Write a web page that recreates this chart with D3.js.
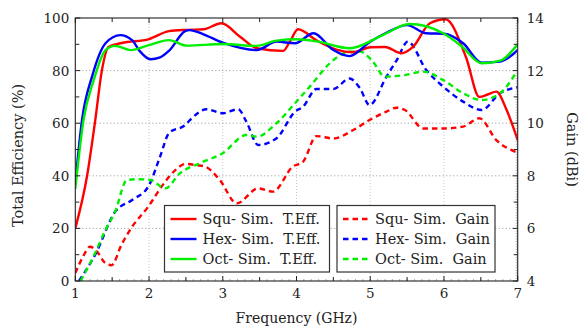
<!DOCTYPE html>
<html><head><meta charset="utf-8">
<script src="https://cdn.jsdelivr.net/npm/d3@7"></script>
<style>body{margin:0;background:#fff}svg{display:block}</style>
</head><body><svg id="c" width="582" height="326"></svg>
<script>
const xTicks = [1,2,3,4,5,6,7];
const effTicks = [0,20,40,60,80,100];
const gainTicks = [4,6,8,10,12,14];

const squEff = [[1.0,20],[1.16,40],[1.27,61],[1.36,80],[1.45,89],[1.63,90.5],[2.0,92],[2.27,95],[2.5,95.5],[2.74,95.7],[2.98,98],[3.23,93],[3.46,88.5],[3.82,87.5],[3.91,91],[4.02,95.7],[4.27,91.5],[4.54,88],[4.77,87],[5.0,88.9],[5.2,89],[5.42,86.6],[5.58,89],[5.81,98],[6.02,99.5],[6.3,85],[6.48,70],[6.6,71],[6.71,72],[6.85,65],[7.0,53.6]];
const hexEff = [[1.0,37],[1.09,61],[1.23,78],[1.41,90.4],[1.61,93.5],[1.77,91.6],[1.88,87.2],[2.02,84.3],[2.15,85],[2.27,87.5],[2.49,95],[2.55,95.4],[2.73,93.9],[3.0,90.6],[3.46,87.8],[3.73,91],[3.98,90.4],[4.23,94.2],[4.5,87.8],[4.72,85.5],[5.0,91],[5.22,94.4],[5.5,97.3],[5.76,94.2],[6.0,94],[6.26,90.4],[6.51,83],[6.76,83.4],[7.0,87.8]];
const octEff = [[1.0,35],[1.11,61],[1.25,76.4],[1.41,87.8],[1.54,89.4],[1.75,87.8],[2.0,89.7],[2.27,91.6],[2.51,89.5],[3.0,90.1],[3.46,89.4],[3.73,91.4],[4.0,91.9],[4.29,91],[4.72,88.5],[5.17,93.5],[5.53,97.7],[5.99,94.2],[6.25,89],[6.51,82.8],[6.76,83.8],[7.0,90]];
const squGain = [[1.0,4.3],[1.1,4.9],[1.2,5.3],[1.3,5.1],[1.4,4.7],[1.49,4.6],[1.63,5.4],[1.77,6.06],[1.99,6.83],[2.17,7.59],[2.35,8.2],[2.5,8.45],[2.65,8.4],[2.76,8.35],[2.96,7.84],[3.19,6.95],[3.48,7.52],[3.68,7.4],[3.95,8.35],[4.09,8.54],[4.27,9.51],[4.5,9.42],[4.77,9.74],[4.99,10.12],[5.22,10.44],[5.36,10.59],[5.47,10.5],[5.72,9.8],[5.99,9.8],[6.26,9.87],[6.48,10.19],[6.71,9.36],[7.0,8.88]];
const hexGain = [[1.05,4.0],[1.27,5.0],[1.54,6.63],[1.77,7.08],[1.99,7.59],[2.15,8.73],[2.27,9.62],[2.49,9.93],[2.58,10.19],[2.78,10.53],[3.0,10.38],[3.21,10.53],[3.32,10.06],[3.48,9.17],[3.73,9.43],[3.98,10.44],[4.09,10.63],[4.27,11.3],[4.5,11.3],[4.72,11.7],[4.86,11.33],[4.99,10.69],[5.22,11.77],[5.36,12.4],[5.51,13.1],[5.76,12.02],[5.99,11.39],[6.26,10.82],[6.51,10.5],[6.76,11.14],[7.0,11.37]];
const octGain = [[1.07,4.0],[1.25,4.95],[1.41,5.94],[1.54,6.63],[1.7,7.84],[1.86,7.87],[2.02,7.84],[2.22,7.52],[2.42,8.1],[2.69,8.48],[3.0,8.86],[3.32,9.55],[3.46,9.49],[3.73,10.0],[3.98,10.76],[4.18,11.39],[4.5,12.4],[4.72,12.72],[4.86,12.72],[5.02,12.4],[5.2,11.77],[5.47,11.83],[5.72,11.96],[5.99,11.64],[6.26,11.14],[6.51,10.88],[6.76,11.14],[7.0,12.02]];

const effSeries = [
  {name:"Squ- Sim.  T.Eff.", data:squEff, color:"#ff0000"},
  {name:"Hex- Sim.  T.Eff.", data:hexEff, color:"#0000ff"},
  {name:"Oct- Sim.  T.Eff.", data:octEff, color:"#00ee00"}
];
const gainSeries = [
  {name:"Squ- Sim.  Gain", data:squGain, color:"#ff0000"},
  {name:"Hex- Sim.  Gain", data:hexGain, color:"#0000ff"},
  {name:"Oct- Sim.  Gain", data:octGain, color:"#00ee00"}
];

const FONT = "'DejaVu Serif','Liberation Serif',serif";
const L=75.3, R=517.7, T=18, B=281;
const svg = d3.select("#c");
const x = d3.scaleLinear().domain([1,7]).range([L,R]);
const yE = d3.scaleLinear().domain([0,100]).range([B,T]);
const yG = d3.scaleLinear().domain([4,14]).range([B,T]);

const g = svg.append("g");
[2,3,4,5,6].forEach(v=>g.append("line").attr("x1",x(v)).attr("x2",x(v)).attr("y1",T).attr("y2",B)
  .attr("stroke","#bbb").attr("stroke-width",0.8).attr("stroke-dasharray","1,2"));
[20,40,60,80].forEach(v=>g.append("line").attr("x1",L).attr("x2",R).attr("y1",yE(v)).attr("y2",yE(v))
  .attr("stroke","#777").attr("stroke-width",0.8).attr("stroke-dasharray","1,2.5"));

svg.append("clipPath").attr("id","clip").append("rect").attr("x",L).attr("y",T-3).attr("width",R-L).attr("height",B-T+3);
const plot = svg.append("g").attr("clip-path","url(#clip)");
const lineE = d3.line().x(d=>x(d[0])).y(d=>yE(d[1])).curve(d3.curveMonotoneX);
const lineG = d3.line().x(d=>x(d[0])).y(d=>yG(d[1])).curve(d3.curveMonotoneX);
gainSeries.forEach(s=>plot.append("path").attr("d",lineG(s.data)).attr("fill","none").attr("stroke",s.color)
  .attr("stroke-width",2.4).attr("stroke-dasharray","5.5,4"));
effSeries.forEach(s=>plot.append("path").attr("d",lineE(s.data)).attr("fill","none").attr("stroke",s.color)
  .attr("stroke-width",2.4));

const ax = svg.append("g");
function tick(x1,y1,x2,y2,c,w){ax.append("line").attr("x1",x1).attr("y1",y1).attr("x2",x2).attr("y2",y2).attr("stroke",c||"#222").attr("stroke-width",w||1);}
d3.range(40,141).forEach(i=>{const v=i/10;tick(R,yG(v),R-2,yG(v),"#777",0.6);});
d3.range(10,71).forEach(i=>{const v=i/10;tick(x(v),B,x(v),B-2,"#777",0.6);});
d3.range(2,15).forEach(i=>{const v=i/2;const len=Number.isInteger(v)?5:4;
  tick(x(v),B,x(v),B-len);tick(x(v),T,x(v),T+len);});
d3.range(0,11).forEach(i=>{const v=i*10;tick(L,yE(v),L+(v%20===0?5:4),yE(v));});
d3.range(4,15).forEach(v=>{tick(R,yG(v),R-(v%2===0?5:4),yG(v));});
svg.append("rect").attr("x",L).attr("y",T).attr("width",R-L).attr("height",B-T).attr("fill","none").attr("stroke","#222").attr("stroke-width",1.1);

const txt = (sel,fs)=>sel.attr("fill","#222").attr("font-size",fs).style("font-family",FONT);
svg.append("g").selectAll("text").data(xTicks).join("text").attr("x",d=>x(d)).attr("y",B+17).attr("text-anchor","middle").call(txt,13.5).text(d=>d);
svg.append("g").selectAll("text").data(effTicks).join("text").attr("x",L-6).attr("y",d=>yE(d)+5).attr("text-anchor","end").call(txt,13.5).text(d=>d);
svg.append("g").selectAll("text").data(gainTicks).join("text").attr("x",R+9).attr("y",d=>yG(d)+5).attr("text-anchor","start").call(txt,13.5).text(d=>d);
svg.append("text").attr("x",(L+R)/2).attr("y",323).attr("text-anchor","middle").call(txt,14).text("Frequency (GHz)");
svg.append("text").attr("transform",`translate(23,${(T+B)/2+6}) rotate(-90)`).attr("text-anchor","middle").call(txt,14.5).text("Total Efficiency (%)");
svg.append("text").attr("transform",`translate(567,${(T+B)/2}) rotate(90)`).attr("text-anchor","middle").call(txt,14.5).text("Gain (dBi)");

function legend(series,x0,x1,dash){
  const lg = svg.append("g");
  lg.append("rect").attr("x",x0).attr("y",205.5).attr("width",x1-x0).attr("height",66.5).attr("fill","#fff").attr("stroke","#333").attr("stroke-width",1.2);
  series.forEach((s,i)=>{const yy=219+i*20;
    lg.append("line").attr("x1",x0+6).attr("x2",x0+32).attr("y1",yy).attr("y2",yy).attr("stroke",s.color).attr("stroke-width",2.4).attr("stroke-dasharray",dash?"5.5,4":null);
    lg.append("text").attr("x",x0+38).attr("y",yy+5).call(txt,14.5).style("white-space","pre").text(s.name);
  });
}
legend(effSeries,164.5,329.5,false);
legend(gainSeries,337,495,true);
</script></body></html>
